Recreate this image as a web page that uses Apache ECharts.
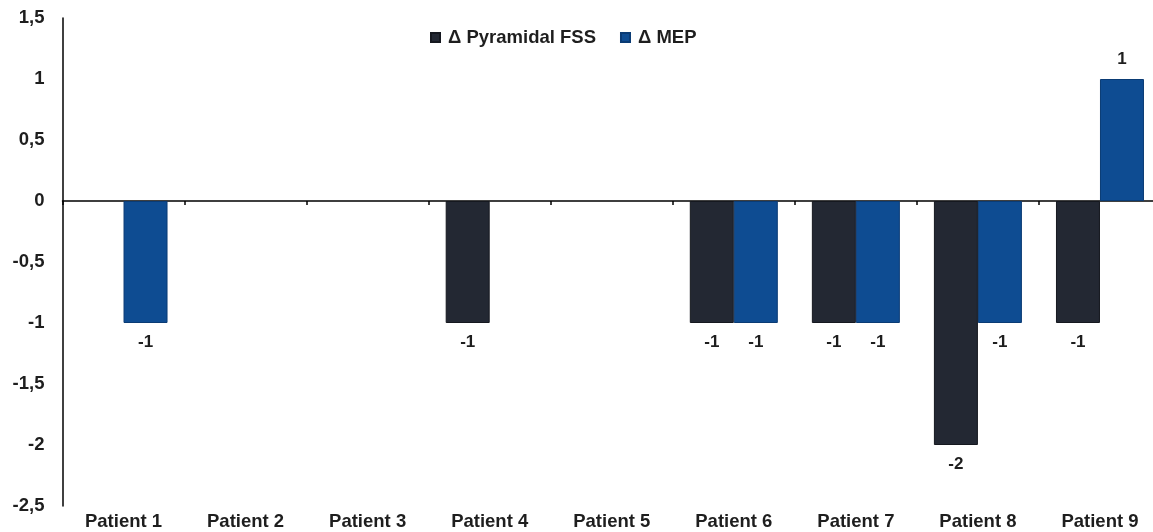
<!DOCTYPE html>
<html>
<head>
<meta charset="utf-8">
<script src="https://cdn.jsdelivr.net/npm/echarts@6/dist/echarts.min.js"></script>
<style>
  html, body { margin: 0; padding: 0; background: #ffffff; overflow: hidden; }
  body { width: 1153px; height: 532px; }
  /* the plot runs slightly past the right edge of the page */
  #chart { width: 1161px; height: 532px; }
</style>
</head>
<body>
<div id="chart"></div>
<script>
// Per-patient change scores
const patients = ['Patient 1', 'Patient 2', 'Patient 3', 'Patient 4', 'Patient 5',
                  'Patient 6', 'Patient 7', 'Patient 8', 'Patient 9'];
const deltaPyramidalFSS = [0, 0, 0, -1, 0, -1, -1, -2, -1];
const deltaMEP = [-1, 0, 0, 0, 0, -1, -1, -1, 1];
const seriesNames = ['\u0394 Pyramidal FSS', '\u0394 MEP'];

const FONT = '"Liberation Sans", Arial, sans-serif';
const TEXT = '#1e1e1e';
const FS = 18.5;

// Labels sit outside the bar end: below for negative values, above for positive.
// Zero-height bars get no outline so they vanish into the baseline.
function toItems(values) {
  return values.map(v => ({
    value: v,
    label: { position: v < 0 ? 'bottom' : 'top' },
    itemStyle: v === 0 ? { borderWidth: 0, opacity: 0 } : {}
  }));
}

function barSeries(name, values, color, border) {
  return {
    name: name,
    type: 'bar',
    xAxisIndex: 0,
    barWidth: 44,
    barGap: '0%',
    data: toItems(values),
    itemStyle: { color: color, borderColor: border, borderWidth: 1 },
    label: {
      show: true,
      distance: 11,
      fontFamily: FONT,
      fontSize: 17,
      fontWeight: 'bold',
      color: TEXT,
      formatter: p => (p.value === 0 ? '' : String(p.value))
    }
  };
}

const chart = echarts.init(document.getElementById('chart'), null, { renderer: 'canvas' });
chart.setOption({
  animation: false,
  backgroundColor: '#ffffff',
  legend: {
    data: seriesNames,
    left: 425,
    top: 23,
    icon: 'rect',
    itemWidth: 9,
    itemHeight: 9,
    itemGap: 24,
    textStyle: { fontFamily: FONT, fontSize: FS, fontWeight: 'bold', color: TEXT, padding: [0, 0, 0, 3] }
  },
  grid: { left: 62.5, top: 18, bottom: 26, right: 0, containLabel: false },
  xAxis: [
    {
      // category labels along the bottom edge
      type: 'category',
      data: patients,
      position: 'bottom',
      axisLine: { show: false, onZero: false },
      axisTick: { show: false },
      axisLabel: {
        margin: 6,
        fontFamily: FONT, fontSize: FS, fontWeight: 'bold', color: TEXT
      },
      splitLine: { show: false }
    },
    {
      // baseline through zero with boundary ticks
      type: 'category',
      data: patients,
      position: 'bottom',
      axisLine: { show: true, onZero: true, lineStyle: { color: '#000000', width: 1.5 } },
      axisTick: { show: true, inside: false, length: 4, lineStyle: { color: '#000000', width: 1.5 } },
      axisLabel: { show: false },
      splitLine: { show: false }
    }
  ],
  yAxis: {
    type: 'value',
    min: -2.5,
    max: 1.5,
    interval: 0.5,
    axisLine: { show: true, lineStyle: { color: '#000000', width: 1.5 } },
    axisTick: { show: false },
    splitLine: { show: false },
    axisLabel: {
      margin: 18,
      fontFamily: FONT, fontSize: FS, fontWeight: 'bold', color: TEXT,
      formatter: v => String(v).replace('.', ',')
    }
  },
  series: [
    barSeries(seriesNames[0], deltaPyramidalFSS, '#232833', '#15181f'),
    barSeries(seriesNames[1], deltaMEP, '#0e4c92', '#0a3b74')
  ]
});
</script>
</body>
</html>
